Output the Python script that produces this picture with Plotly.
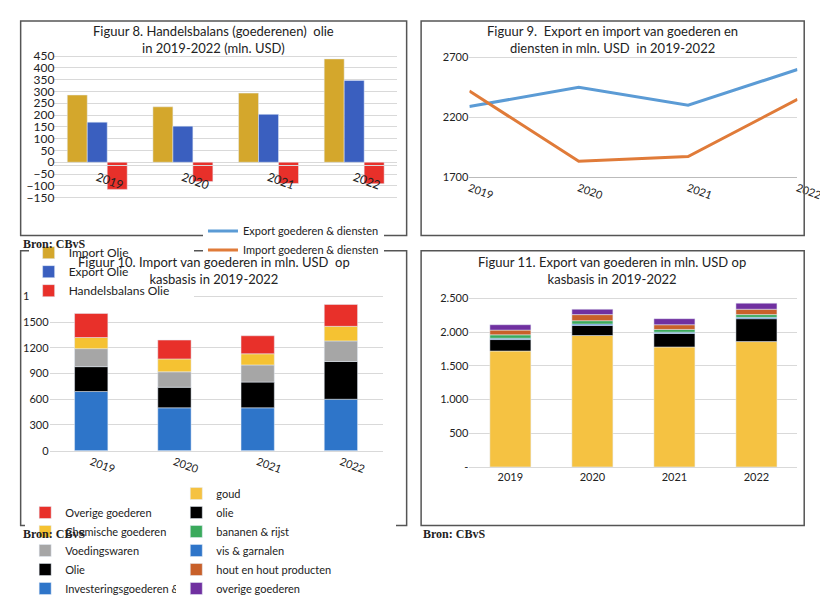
import plotly.graph_objects as go

jaren = ["2019", "2020", "2021", "2022"]

# Figuur 8
import_olie = [285, 235, 293, 438]
export_olie = [170, 153, 203, 347]
handelsbalans_olie = [-115, -82, -90, -91]

# Figuur 9
export_gd = [2290, 2450, 2300, 2600]
import_gd = [2420, 1830, 1870, 2350]

# Figuur 10
imp_invest = [690, 500, 500, 600]
imp_olie = [290, 240, 300, 440]
imp_voeding = [210, 180, 200, 240]
imp_chemisch = [130, 150, 130, 170]
imp_overig = [280, 220, 210, 255]

# Figuur 11
exp_goud = [1720, 1950, 1780, 1860]
exp_olie = [170, 150, 200, 340]
exp_vis = [20, 20, 20, 20]
exp_bananen = [50, 50, 40, 40]
exp_hout = [70, 90, 70, 80]
exp_overig = [80, 80, 90, 90]

W, H = 828, 595
def px(x): return x / W
def py(y): return 1 - y / H

font = "Lato, Open Sans, sans-serif"
fig = go.Figure()

# Figuur 8 (gegroepeerd)
for name, vals, col in [("Import Olie", import_olie, "#d4a72c"),
                        ("Export Olie", export_olie, "#3a5fbf"),
                        ("Handelsbalans Olie", handelsbalans_olie, "#e8302a")]:
    fig.add_trace(go.Bar(x=jaren, y=vals, name=name, marker_color=col, offsetgroup=name,
                         xaxis="x", yaxis="y", legend="legend"))

# Figuur 9
fig.add_trace(go.Scatter(x=jaren, y=export_gd, name="Export goederen & diensten", mode="lines",
                         line=dict(color="#5b9bd5", width=3), xaxis="x2", yaxis="y2", legend="legend2"))
fig.add_trace(go.Scatter(x=jaren, y=import_gd, name="Import goederen & diensten", mode="lines",
                         line=dict(color="#e07b39", width=3), xaxis="x2", yaxis="y2", legend="legend2"))

# Figuur 10 (gestapeld)
for name, vals, col in [("Investeringsgoederen & Transport", imp_invest, "#2e75c9"),
                        ("Olie", imp_olie, "#000000"),
                        ("Voedingswaren", imp_voeding, "#a6a6a6"),
                        ("Chemische goederen", imp_chemisch, "#f5c232"),
                        ("Overige goederen", imp_overig, "#e8302a")]:
    fig.add_trace(go.Bar(x=jaren, y=vals, name=name, marker_color=col, width=0.4, offsetgroup="x3",
                         xaxis="x3", yaxis="y3", legend="legend3"))

# Figuur 11 (gestapeld)
for rank, (name, vals, col) in zip([1, 2, 4, 3, 5, 6], [
        ("goud", exp_goud, "#f5c242"),
        ("olie", exp_olie, "#000000"),
        ("vis & garnalen", exp_vis, "#2e75c9"),
        ("bananen & rijst", exp_bananen, "#3aaa5c"),
        ("hout en hout producten", exp_hout, "#c8602a"),
        ("overige goederen", exp_overig, "#7030a0")]):
    fig.add_trace(go.Bar(x=jaren, y=vals, name=name, marker_color=col, width=0.5, offsetgroup="x4",
                         legendrank=rank, xaxis="x4", yaxis="y4", legend="legend4"))

grid = "#d9d9d9"
tf = dict(family=font, size=11, color="#222")
fig.update_layout(
    width=W, height=H, margin=dict(l=0, r=0, t=0, b=0),
    paper_bgcolor="white", plot_bgcolor="white", barmode="relative",
    separators=",.", font=tf, bargap=0.3,
    xaxis=dict(domain=[px(45), px(400)], anchor="free", position=py(170), tickangle=20,
               showline=True, linecolor=grid, tickfont=dict(family=font, size=12)),
    yaxis=dict(domain=[py(210), py(45)], range=[-165, 465], dtick=50, gridcolor=grid,
               zeroline=False, anchor="free", position=px(45), tickfont=dict(family=font, size=12)),
    xaxis2=dict(domain=[px(475), px(815)], anchor="y2", tickangle=20, showline=True, linecolor="#bbb"),
    yaxis2=dict(domain=[py(183), py(40)], range=[1700, 2780], tickvals=[1700, 2200, 2700],
                tickformat="d", gridcolor=grid, zeroline=False, anchor="x2"),
    xaxis3=dict(domain=[px(40), px(385)], anchor="y3", tickangle=20, showline=True, linecolor=grid),
    yaxis3=dict(domain=[py(487), py(308)], range=[0, 1880], dtick=300, gridcolor=grid,
                zeroline=False, anchor="x3"),
    xaxis4=dict(domain=[px(475), px(815)], anchor="y4", showline=True, linecolor=grid),
    yaxis4=dict(domain=[py(505), py(312)], range=[0, 2580], anchor="x4",
                tickvals=[0, 500, 1000, 1500, 2000, 2500],
                ticktext=["-", "500", "1.000", "1.500", "2.000", "2.500"], gridcolor=grid, zeroline=False),
    legend=dict(orientation="h", x=px(22), y=py(230), xanchor="left", yanchor="top",
                entrywidth=120, font=dict(family=font, size=12)),
    legend2=dict(x=px(525), y=py(208), xanchor="left", yanchor="top", font=tf, tracegroupgap=0),
    legend3=dict(orientation="h", x=px(12), y=py(512), xanchor="left", yanchor="top", font=tf,
                 traceorder="reversed", entrywidth=185, tracegroupgap=0),
    legend4=dict(orientation="h", x=px(448), y=py(518), xanchor="left", yanchor="top", font=tf,
                 entrywidth=175, tracegroupgap=0),
)

boxes = [(10, 10, 410, 248), (425, 10, 822, 248), (10, 265, 410, 570), (425, 265, 822, 570)]
for x0, y0, x1, y1 in boxes:
    fig.add_shape(type="rect", xref="paper", yref="paper", x0=px(x0), x1=px(x1), y0=py(y0), y1=py(y1),
                  line=dict(color="#555", width=1.5))

titles = [(210, 30, "Figuur 8. Handelsbalans (goederenen)  olie<br>in 2019-2022 (mln. USD)"),
          (623, 30, "Figuur 9.  Export en import van goederen en<br>diensten in mln. USD  in 2019-2022"),
          (210, 287, "Figuur 10. Import van goederen in mln. USD  op<br>kasbasis in 2019-2022"),
          (623, 287, "Figuur 11. Export van goederen in mln. USD op<br>kasbasis in 2019-2022")]
for x, y, t in titles:
    fig.add_annotation(text=t, x=px(x), y=py(y), xref="paper", yref="paper", showarrow=False,
                       xanchor="center", yanchor="middle",
                       font=dict(family=font, size=13, color="#222"), align="center")
for x, y in [(10, 258), (10, 580), (425, 580)]:
    fig.add_annotation(text="<b>Bron: CBvS</b>", x=px(x), y=py(y), xref="paper", yref="paper",
                       showarrow=False, xanchor="left", yanchor="middle",
                       font=dict(family="Liberation Serif", size=12))

fig.write_html("out.html")
